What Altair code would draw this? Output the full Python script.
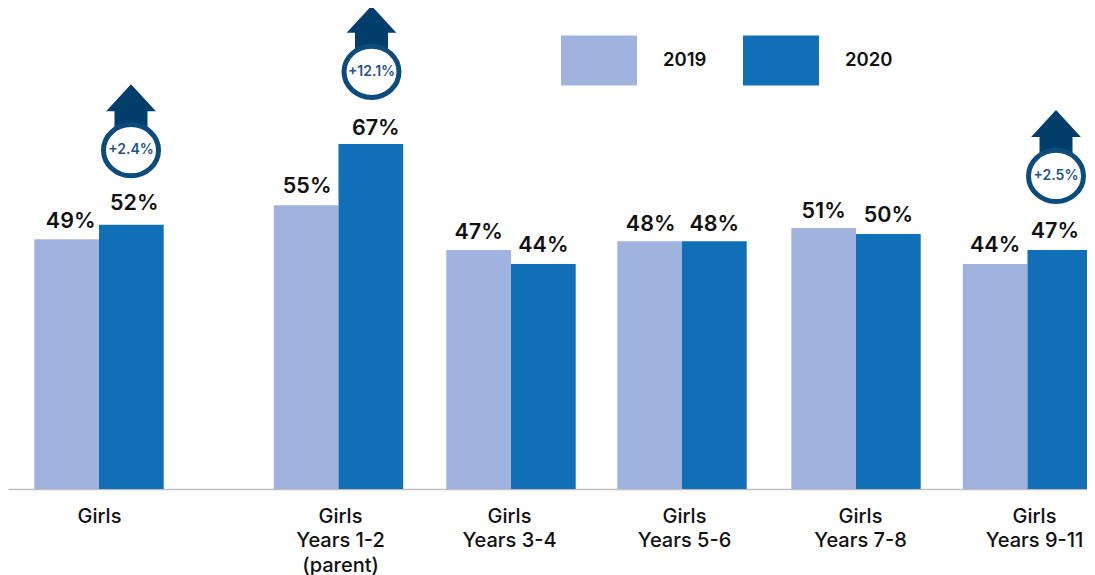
import json
import altair as alt
import pandas as pd

FONT = "Inter"
C_2019, C_2020 = "#A0B3DF", "#116FB8"
NAVY, RING, BADGE_TEXT = "#023E6C", "#0B4C7C", "#1F5585"

group_lines = [["Girls"], ["Girls", "Years 1-2", "(parent)"], ["Girls", "Years 3-4"],
               ["Girls", "Years 5-6"], ["Girls", "Years 7-8"], ["Girls", "Years 9-11"]]
group_pos = [91, 330.5, 503, 674, 848, 1019.5]
tick_pos = [91, 332, 501, 676, 852, 1026]
series = ["2019", "2020"]
values_2019 = [48.5, 55.1, 46.4, 48.1, 50.7, 43.7]
values_2020 = [51.3, 67.0, 43.7, 48.1, 49.5, 46.4]
labels_2019 = ["49%", "55%", "47%", "48%", "51%", "44%"]
labels_2020 = ["52%", "67%", "44%", "48%", "50%", "47%"]
label_shift_2019 = [4, 1, 0, 1, 0, 0]
label_shift_2020 = [3, 5, 0, 0, 0, -5]
label_lift_2019 = [17, 18, 17, 16, 16, 18]
label_lift_2020 = [21, 15, 18, 16, 18, 18]
badge_pos = [123, 363.5, 1048]
badge_val = [65.8, 81.0, 60.8]
badge_text = ["+2.4%", "+12.1%", "+2.5%"]

BAR_W = 64.7
PX_PER_UNIT = 481 / 93.4
rows = []
for i, p in enumerate(group_pos):
    rows.append(dict(series="2019", x=p - BAR_W, x2=p, v=values_2019[i], v0=0, t=labels_2019[i],
                     tx=p - BAR_W / 2 + label_shift_2019[i],
                     ty=values_2019[i] + label_lift_2019[i] / PX_PER_UNIT))
    rows.append(dict(series="2020", x=p, x2=p + BAR_W, v=values_2020[i], v0=0, t=labels_2020[i],
                     tx=p + BAR_W / 2 + label_shift_2020[i],
                     ty=values_2020[i] + label_lift_2020[i] / PX_PER_UNIT))
df = pd.DataFrame(rows)
badges = pd.DataFrame(dict(x=badge_pos, v=badge_val, t=badge_text))

xs = alt.Scale(domain=[0, 1079], nice=False, zero=False, clamp=True)
ys = alt.Scale(domain=[0, 93.4], nice=False, zero=False)

label_map = {str(p): l for p, l in zip(tick_pos, group_lines)}
x_axis = alt.Axis(values=tick_pos, title=None, ticks=False, grid=False,
                  domainColor="#BFBFBF", domainWidth=1.5,
                  labelExpr=f"{json.dumps(label_map)}[datum.value]",
                  labelFont=FONT, labelFontSize=20, labelFontWeight=500, labelColor="#111111",
                  labelLineHeight=24.5, labelPadding=17, labelOverlap=False, labelBound=False,
                  labelFlush=False, labelAngle=0, labelBaseline="top")

swatch = "M-1,-0.658H1V0.658H-1Z"
bars = alt.Chart(df).mark_bar().encode(
    x=alt.X("x:Q", scale=xs, axis=x_axis),
    x2="x2:Q",
    y=alt.Y("v:Q", scale=ys, axis=None),
    y2="v0:Q",
    color=alt.Color("series:N", scale=alt.Scale(domain=series, range=[C_2019, C_2020]),
                    legend=alt.Legend(orient="none", legendX=553, legendY=14, direction="horizontal",
                                      title=None, symbolType=swatch, symbolSize=5776,
                                      symbolStrokeWidth=0, symbolOpacity=1,
                                      labelFont=FONT, labelFontSize=18.5, labelFontWeight=600,
                                      labelColor="#111111", labelOffset=26, columnPadding=36)),
)
bar_text = alt.Chart(df).mark_text(font=FONT, fontSize=21.5, fontWeight=600, color="#111111",
                                   baseline="middle").encode(
    x=alt.X("tx:Q", scale=xs), y=alt.Y("ty:Q", scale=ys), text="t:N")

arrow = "M0,-2.2L0.83,-1.3H0.55V-0.73H-0.55V-1.3H-0.83Z"
ellipse = "M-1,0A1,0.93 0 1,1 1,0A1,0.93 0 1,1 -1,0Z"
b = alt.Chart(badges)
arrows = b.mark_point(shape=arrow, size=3600, filled=True, fill=NAVY, opacity=1, strokeWidth=0).encode(
    x=alt.X("x:Q", scale=xs), y=alt.Y("v:Q", scale=ys))
rings = b.mark_point(shape=ellipse, size=3025, filled=True, fill="white", stroke=RING,
                     strokeWidth=5, opacity=1).encode(
    x=alt.X("x:Q", scale=xs), y=alt.Y("v:Q", scale=ys))
badge_lbl = b.mark_text(font=FONT, fontSize=14, fontWeight=600, color=BADGE_TEXT, baseline="middle").encode(
    x=alt.X("x:Q", scale=xs), y=alt.Y("v:Q", scale=ys), text="t:N")

chart = alt.layer(bars, bar_text, arrows, rings, badge_lbl).properties(
    width=1079, height=481,
    autosize=alt.AutoSizeParams(type="none"),
    padding={"left": 0, "top": 0, "right": 0, "bottom": 86},
).configure_view(stroke=None).resolve_scale(y="shared", x="shared")

chart.save("out.html", embed_options={"renderer": "svg", "actions": False})
